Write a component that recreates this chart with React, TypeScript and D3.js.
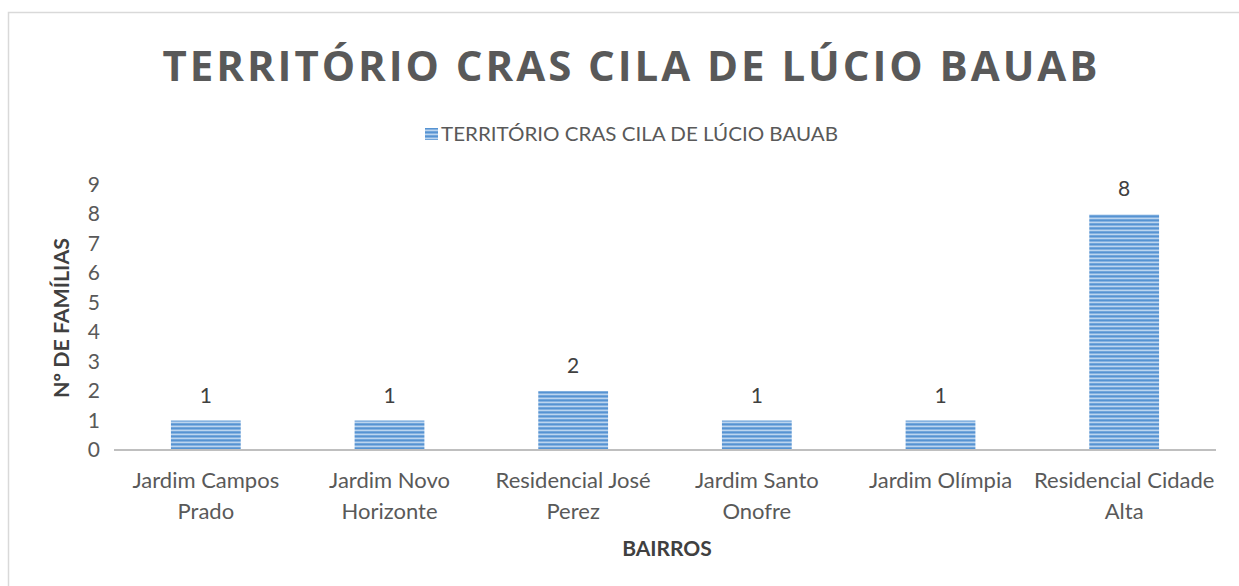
import React from "react";
import * as d3 from "d3";

const categories = [
  ["Jardim Campos", "Prado"],
  ["Jardim Novo", "Horizonte"],
  ["Residencial José", "Perez"],
  ["Jardim Santo", "Onofre"],
  ["Jardim Olímpia"],
  ["Residencial Cidade", "Alta"],
];
const values = [1, 1, 2, 1, 1, 8];
const yTicks = [0, 1, 2, 3, 4, 5, 6, 7, 8, 9];
const title = "TERRITÓRIO CRAS CILA DE LÚCIO BAUAB";
const seriesName = "TERRITÓRIO CRAS CILA DE LÚCIO BAUAB";
const yTitle = "Nº DE FAMÍLIAS";
const xTitle = "BAIRROS";

const W = 1239;
const H = 586;
const FONT = "'Open Sans', 'Noto Sans', sans-serif";
const LFONT = "Lato, 'Open Sans', sans-serif";
const TXT = "#595959";

export default function App() {
  const left = 114, right = 1216, top = 185, bottom = 450;
  const x = d3
    .scaleBand<number>()
    .domain(categories.map((_, i) => i))
    .range([left, right])
    .paddingInner(0.62)
    .paddingOuter(0.31);
  const y = d3.scaleLinear().domain([0, 9]).range([bottom, top]);

  return (
    <svg
      width={W}
      height={H}
      style={{ position: "absolute", left: 0, top: 0, background: "#fff" }}
      fontFamily={LFONT}
    >
      <defs>
        <pattern id="stripes" width="8" height="4" patternUnits="userSpaceOnUse">
          <rect x="0" y="0" width="8" height="1" fill="#5693d2" />
          <rect x="0" y="1" width="8" height="1" fill="#86b2e0" />
          <rect x="0" y="2" width="8" height="1" fill="#bcd5ef" />
          <rect x="0" y="3" width="8" height="1" fill="#72a5da" />
        </pattern>
      </defs>
      <rect x={8.5} y={12.5} width={W + 10} height={H + 10} fill="#fff" stroke="#d9d9d9" strokeWidth={1.5} />

      <text
        x={630}
        y={81}
        textAnchor="middle"
        fontSize={42}
        fontWeight="bold"
        fill={TXT}
        fontFamily={FONT}
        textLength={935}
        lengthAdjust="spacing"
      >
        {title}
      </text>

      <rect x={425} y={128} width={13} height={12} fill="url(#stripes)" />
      <text x={441} y={141} fontSize={19} fill={TXT} textLength={397} lengthAdjust="spacingAndGlyphs">
        {seriesName}
      </text>

      {yTicks.map((t) => (
        <text key={t} x={100} y={y(t) + 7} textAnchor="end" fontSize={21} fill={TXT}>
          {t}
        </text>
      ))}

      <text
        transform={`translate(69, 318) rotate(-90)`}
        textAnchor="middle"
        fontSize={20}
        fontWeight="bold"
        fill="#404040"
        textLength={160}
        lengthAdjust="spacingAndGlyphs"
      >
        {yTitle}
      </text>

      {values.map((v, i) => (
        <g key={i}>
          <rect
            x={x(i)!}
            y={y(v)}
            width={x.bandwidth()}
            height={bottom - y(v)}
            fill="url(#stripes)"
          />
          <text
            x={x(i)! + x.bandwidth() / 2}
            y={y(v) - 18}
            textAnchor="middle"
            fontSize={21}
            fill="#404040"
          >
            {v}
          </text>
        </g>
      ))}

      <line x1={left} x2={right} y1={bottom} y2={bottom} stroke="#bfbfbf" strokeWidth={2} />

      {categories.map((lines, i) => (
        <text
          key={i}
          x={x(i)! + x.bandwidth() / 2}
          textAnchor="middle"
          fontSize={22}
          fill={TXT}
        >
          {lines.map((l, j) => (
            <tspan key={j} x={x(i)! + x.bandwidth() / 2} y={488 + j * 31}>
              {l}
            </tspan>
          ))}
        </text>
      ))}

      <text x={667} y={556} textAnchor="middle" fontSize={21} fontWeight="bold" fill="#404040">
        {xTitle}
      </text>
    </svg>
  );
}
